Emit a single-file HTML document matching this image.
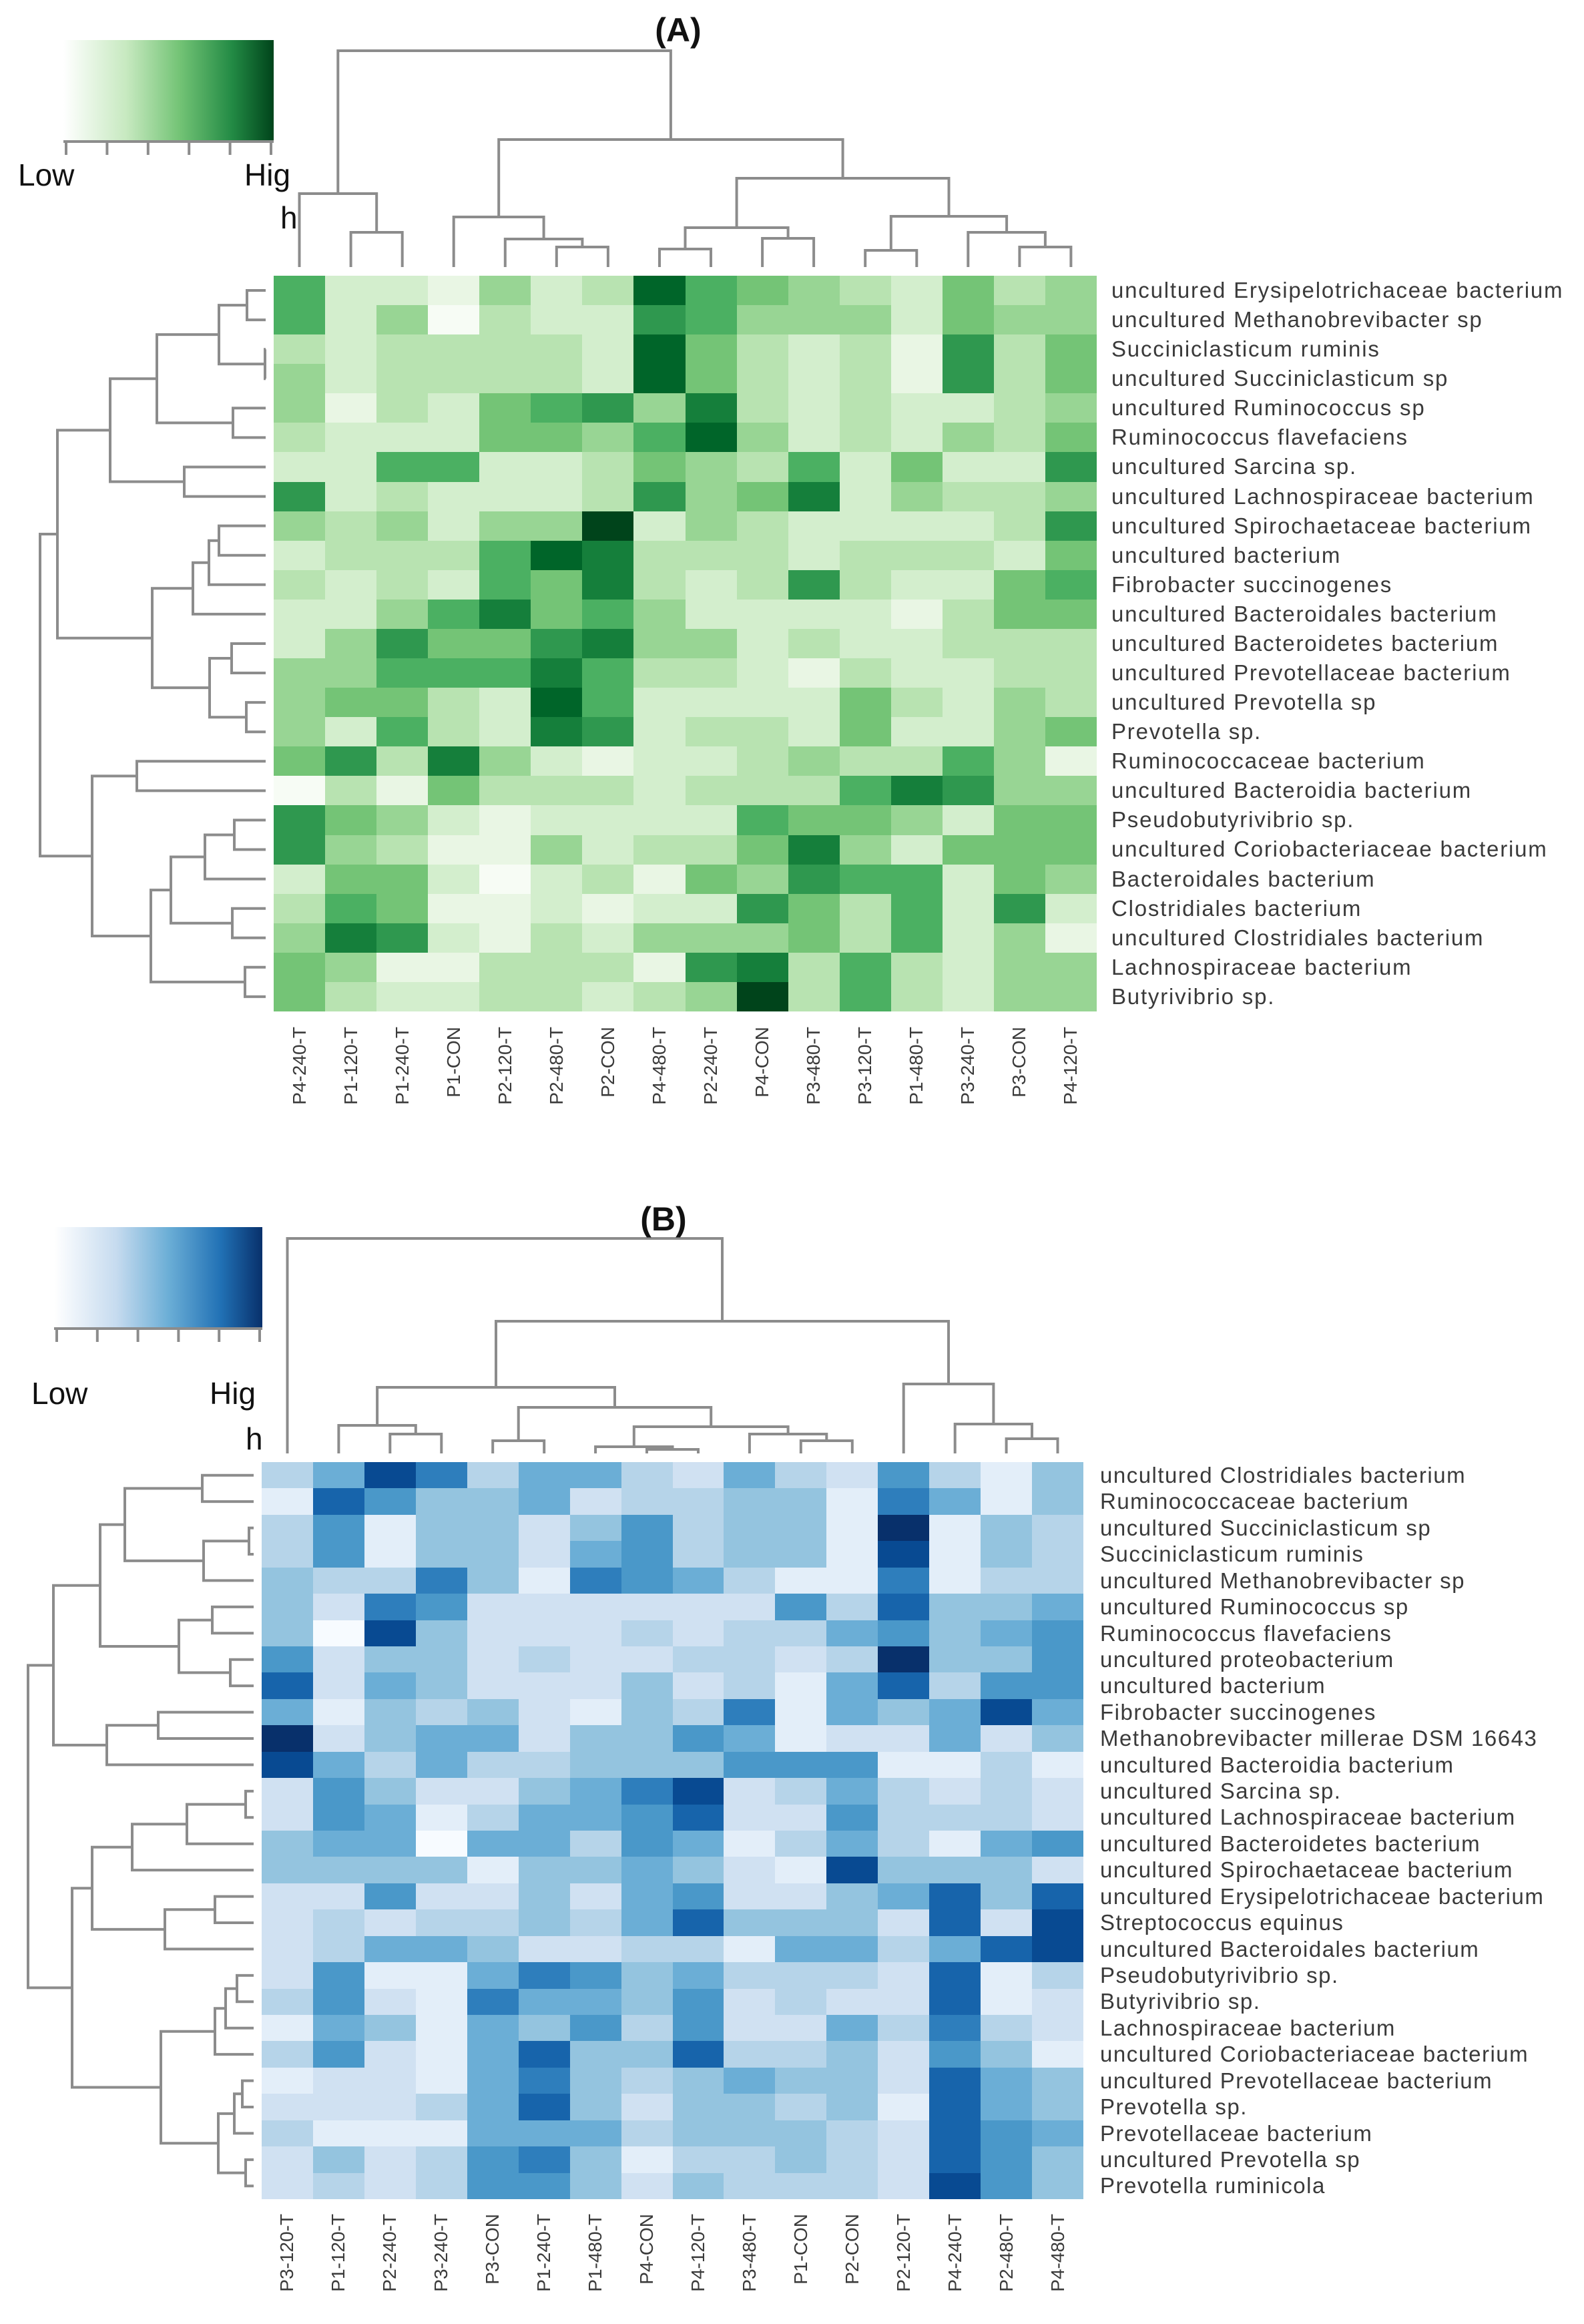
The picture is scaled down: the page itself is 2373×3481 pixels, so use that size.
<!DOCTYPE html>
<html xmlns="http://www.w3.org/1999/xhtml"><head><meta charset="utf-8"/><title>Heatmaps A and B</title>
<style>
html,body{margin:0;padding:0;background:#fff;width:2373px;height:3481px;overflow:hidden;}
body{position:relative;font-family:"Liberation Sans",sans-serif;}
svg{position:absolute;left:0;top:0;}
.grid{position:absolute;display:grid;grid-template-columns:repeat(16,1fr);}
.grid i{display:block;}
#gridA{left:410px;top:413px;width:1233px;height:1102px;grid-template-rows:repeat(25,1fr);}
#gridB{left:392px;top:2190px;width:1231px;height:1104px;grid-template-rows:repeat(28,1fr);}
.g0{background:#f7fcf5}.g1{background:#e9f6e4}.g2{background:#d3eecd}.g3{background:#b8e3b1}.g4{background:#98d594}.g5{background:#74c476}.g6{background:#4bb062}.g7{background:#2f984f}.g8{background:#157f3b}.g9{background:#006529}.g10{background:#00441b}
.b0{background:#f7fbff}.b1{background:#e3eef9}.b2{background:#d0e1f2}.b3{background:#b6d4e9}.b4{background:#94c4df}.b5{background:#6baed6}.b6{background:#4a98c9}.b7{background:#2e7ebc}.b8{background:#1764ab}.b9{background:#084a92}.b10{background:#08306b}
.rows{position:absolute;color:#3a3a3a;white-space:nowrap;}
.rows div{overflow:visible;}
#rowsA{left:1665px;top:413px;}
#rowsA div{height:44.08px;line-height:44.08px;font-size:33px;letter-spacing:1.8px;}
#rowsB{left:1648px;top:2190px;}
#rowsB div{height:39.43px;line-height:39.43px;font-size:33px;letter-spacing:1.5px;}
.cols{position:absolute;display:flex;color:#3a3a3a;font-size:28px;}
.cols div{flex:1;display:flex;justify-content:center;align-items:flex-start;}
.cols span{writing-mode:vertical-rl;transform:rotate(180deg);white-space:nowrap;}
#colsA{left:410px;top:1538px;width:1233px;}
#colsB{left:392px;top:3316px;width:1231px;}
</style></head>
<body>
<svg xmlns="http://www.w3.org/2000/svg" width="2373" height="3481" viewBox="0 0 2373 3481">
<defs>
<linearGradient id="gG" x1="0" x2="1" y1="0" y2="0"><stop offset="0" stop-color="#ffffff"/><stop offset="0.3" stop-color="#c7e9c0"/><stop offset="0.55" stop-color="#74c476"/><stop offset="0.8" stop-color="#238b45"/><stop offset="1" stop-color="#00441b"/></linearGradient>
<linearGradient id="gB" x1="0" x2="1" y1="0" y2="0"><stop offset="0" stop-color="#ffffff"/><stop offset="0.3" stop-color="#c6dbef"/><stop offset="0.55" stop-color="#6baed6"/><stop offset="0.8" stop-color="#2171b5"/><stop offset="1" stop-color="#08306b"/></linearGradient>
</defs>
<g fill="none" stroke="#8c8c8c" stroke-width="4">
<path d="M525.6 400 V348 H602.7 V400"/>
<path d="M448.5 400 V290 H564.2 V348"/>
<path d="M833.8 400 V370 H910.9 V400"/>
<path d="M756.8 400 V358 H872.4 V370"/>
<path d="M679.7 400 V325 H814.6 V358"/>
<path d="M988 400 V373 H1065 V400"/>
<path d="M1142.1 400 V357 H1219.1 V400"/>
<path d="M1026.5 373 V341 H1180.6 V357"/>
<path d="M1296.2 400 V375 H1373.3 V400"/>
<path d="M1527.4 400 V370 H1604.4 V400"/>
<path d="M1450.3 400 V348 H1565.9 V370"/>
<path d="M1334.8 375 V324 H1508.1 V348"/>
<path d="M1103.6 341 V267 H1421.5 V324"/>
<path d="M747.2 325 V209 H1262.6 V267"/>
<path d="M506.3 290 V76 H1004.9 V209"/>
</g>
<g fill="none" stroke="#8c8c8c" stroke-width="4">
<path d="M398 435 H370 V479.1 H398"/>
<path d="M398 523.2 H397 V567.2 H398"/>
<path d="M370 457.1 H328 V545.2 H397"/>
<path d="M398 611.3 H349 V655.4 H398"/>
<path d="M328 501.1 H235 V633.4 H349"/>
<path d="M398 699.5 H276 V743.6 H398"/>
<path d="M235 567.2 H165 V721.5 H276"/>
<path d="M398 787.6 H328 V831.7 H398"/>
<path d="M328 809.7 H313 V875.8 H398"/>
<path d="M313 842.7 H289 V919.9 H398"/>
<path d="M398 964 H347 V1008 H398"/>
<path d="M398 1052.1 H369 V1096.2 H398"/>
<path d="M347 986 H314 V1074.2 H369"/>
<path d="M289 881.3 H228 V1030.1 H314"/>
<path d="M165 644.4 H86 V955.7 H228"/>
<path d="M398 1140.3 H205 V1184.4 H398"/>
<path d="M398 1228.4 H351 V1272.5 H398"/>
<path d="M351 1250.5 H307 V1316.6 H398"/>
<path d="M398 1360.7 H348 V1404.8 H398"/>
<path d="M307 1283.5 H256 V1382.7 H348"/>
<path d="M398 1448.8 H367 V1492.9 H398"/>
<path d="M256 1333.1 H226 V1470.9 H367"/>
<path d="M205 1162.4 H138 V1402 H226"/>
<path d="M86 800 H60 V1282.2 H138"/>
</g>
<g fill="none" stroke="#8c8c8c" stroke-width="4">
<path d="M584.3 2177 V2148 H661.3 V2177"/>
<path d="M507.4 2177 V2135 H622.8 V2148"/>
<path d="M738.2 2177 V2158 H815.2 V2177"/>
<path d="M969 2177 V2171 H1046 V2177"/>
<path d="M892.1 2177 V2167 H1007.5 V2171"/>
<path d="M1199.8 2177 V2158 H1276.8 V2177"/>
<path d="M1122.9 2177 V2148 H1238.3 V2158"/>
<path d="M949.8 2167 V2137 H1180.6 V2148"/>
<path d="M776.7 2158 V2108 H1065.2 V2137"/>
<path d="M565.1 2135 V2078 H921 V2108"/>
<path d="M1507.6 2177 V2155 H1584.5 V2177"/>
<path d="M1430.7 2177 V2133 H1546 V2155"/>
<path d="M1353.7 2177 V2073 H1488.4 V2133"/>
<path d="M743 2078 V1979 H1421 V2073"/>
<path d="M430.5 2177 V1855 H1082 V1979"/>
</g>
<g fill="none" stroke="#8c8c8c" stroke-width="4">
<path d="M380 2209.7 H303 V2249.1 H380"/>
<path d="M380 2288.6 H373 V2328 H380"/>
<path d="M373 2308.3 H305 V2367.4 H380"/>
<path d="M303 2229.4 H187 V2337.9 H305"/>
<path d="M380 2406.9 H318 V2446.3 H380"/>
<path d="M380 2485.7 H345 V2525.1 H380"/>
<path d="M318 2426.6 H268 V2505.4 H345"/>
<path d="M187 2283.6 H150 V2466 H268"/>
<path d="M380 2564.6 H237 V2604 H380"/>
<path d="M237 2584.3 H160 V2643.4 H380"/>
<path d="M150 2374.8 H80 V2613.9 H160"/>
<path d="M380 2682.9 H368 V2722.3 H380"/>
<path d="M368 2702.6 H280 V2761.7 H380"/>
<path d="M280 2732.2 H198 V2801.1 H380"/>
<path d="M380 2840.6 H322 V2880 H380"/>
<path d="M322 2860.3 H247 V2919.4 H380"/>
<path d="M198 2766.7 H138 V2889.9 H247"/>
<path d="M380 2958.9 H355 V2998.3 H380"/>
<path d="M355 2978.6 H338 V3037.7 H380"/>
<path d="M338 3008.2 H322 V3077.1 H380"/>
<path d="M380 3116.6 H363 V3156 H380"/>
<path d="M363 3136.3 H351 V3195.4 H380"/>
<path d="M380 3234.9 H368 V3274.3 H380"/>
<path d="M351 3165.9 H327 V3254.6 H368"/>
<path d="M322 3042.7 H241 V3210.3 H327"/>
<path d="M138 2828.3 H108 V3126.5 H241"/>
<path d="M80 2494.4 H42 V2977.4 H108"/>
</g>
<g>
<rect x="95" y="60" width="315" height="150" fill="url(#gG)"/>
<path d="M95 212 H410 M99 212 V232 M160.4 212 V232 M221.8 212 V232 M283.2 212 V232 M344.6 212 V232 M406 212 V232" stroke="#8c8c8c" stroke-width="4" fill="none"/>
<text x="27" y="278" font-size="46" fill="#111" font-family="Liberation Sans, sans-serif">Low</text>
<text x="366" y="278" font-size="46" fill="#111" font-family="Liberation Sans, sans-serif">Hig</text>
<text x="420" y="342" font-size="46" fill="#111" font-family="Liberation Sans, sans-serif">h</text>
</g>
<text x="1016" y="62" font-size="50" font-weight="bold" text-anchor="middle" fill="#111" font-family="Liberation Sans, sans-serif">(A)</text>
<g>
<rect x="81" y="1838" width="312" height="150" fill="url(#gB)"/>
<path d="M81 1990 H393 M85 1990 V2010 M145.8 1990 V2010 M206.6 1990 V2010 M267.4 1990 V2010 M328.2 1990 V2010 M389 1990 V2010" stroke="#8c8c8c" stroke-width="4" fill="none"/>
<text x="47" y="2103" font-size="46" fill="#111" font-family="Liberation Sans, sans-serif">Low</text>
<text x="314" y="2103" font-size="46" fill="#111" font-family="Liberation Sans, sans-serif">Hig</text>
<text x="368" y="2171" font-size="46" fill="#111" font-family="Liberation Sans, sans-serif">h</text>
</g>
<text x="994" y="1843" font-size="50" font-weight="bold" text-anchor="middle" fill="#111" font-family="Liberation Sans, sans-serif">(B)</text>
</svg>

<div class="grid" id="gridA">
<i class="g6"></i><i class="g2"></i><i class="g2"></i><i class="g1"></i><i class="g4"></i><i class="g2"></i><i class="g3"></i><i class="g9"></i><i class="g6"></i><i class="g5"></i><i class="g4"></i><i class="g3"></i><i class="g2"></i><i class="g5"></i><i class="g3"></i><i class="g4"></i>
<i class="g6"></i><i class="g2"></i><i class="g4"></i><i class="g0"></i><i class="g3"></i><i class="g2"></i><i class="g2"></i><i class="g7"></i><i class="g6"></i><i class="g4"></i><i class="g4"></i><i class="g4"></i><i class="g2"></i><i class="g5"></i><i class="g4"></i><i class="g4"></i>
<i class="g3"></i><i class="g2"></i><i class="g3"></i><i class="g3"></i><i class="g3"></i><i class="g3"></i><i class="g2"></i><i class="g9"></i><i class="g5"></i><i class="g3"></i><i class="g2"></i><i class="g3"></i><i class="g1"></i><i class="g7"></i><i class="g3"></i><i class="g5"></i>
<i class="g4"></i><i class="g2"></i><i class="g3"></i><i class="g3"></i><i class="g3"></i><i class="g3"></i><i class="g2"></i><i class="g9"></i><i class="g5"></i><i class="g3"></i><i class="g2"></i><i class="g3"></i><i class="g1"></i><i class="g7"></i><i class="g3"></i><i class="g5"></i>
<i class="g4"></i><i class="g1"></i><i class="g3"></i><i class="g2"></i><i class="g5"></i><i class="g6"></i><i class="g7"></i><i class="g4"></i><i class="g8"></i><i class="g3"></i><i class="g2"></i><i class="g3"></i><i class="g2"></i><i class="g2"></i><i class="g3"></i><i class="g4"></i>
<i class="g3"></i><i class="g2"></i><i class="g2"></i><i class="g2"></i><i class="g5"></i><i class="g5"></i><i class="g4"></i><i class="g6"></i><i class="g9"></i><i class="g4"></i><i class="g2"></i><i class="g3"></i><i class="g2"></i><i class="g4"></i><i class="g3"></i><i class="g5"></i>
<i class="g2"></i><i class="g2"></i><i class="g6"></i><i class="g6"></i><i class="g2"></i><i class="g2"></i><i class="g3"></i><i class="g5"></i><i class="g4"></i><i class="g3"></i><i class="g6"></i><i class="g2"></i><i class="g5"></i><i class="g2"></i><i class="g2"></i><i class="g7"></i>
<i class="g7"></i><i class="g2"></i><i class="g3"></i><i class="g2"></i><i class="g2"></i><i class="g2"></i><i class="g3"></i><i class="g7"></i><i class="g4"></i><i class="g5"></i><i class="g8"></i><i class="g2"></i><i class="g4"></i><i class="g3"></i><i class="g3"></i><i class="g4"></i>
<i class="g4"></i><i class="g3"></i><i class="g4"></i><i class="g2"></i><i class="g4"></i><i class="g4"></i><i class="g10"></i><i class="g2"></i><i class="g4"></i><i class="g3"></i><i class="g2"></i><i class="g2"></i><i class="g2"></i><i class="g2"></i><i class="g3"></i><i class="g7"></i>
<i class="g2"></i><i class="g3"></i><i class="g3"></i><i class="g3"></i><i class="g6"></i><i class="g9"></i><i class="g8"></i><i class="g3"></i><i class="g3"></i><i class="g3"></i><i class="g2"></i><i class="g3"></i><i class="g3"></i><i class="g3"></i><i class="g2"></i><i class="g5"></i>
<i class="g3"></i><i class="g2"></i><i class="g3"></i><i class="g2"></i><i class="g6"></i><i class="g5"></i><i class="g8"></i><i class="g3"></i><i class="g2"></i><i class="g3"></i><i class="g7"></i><i class="g3"></i><i class="g2"></i><i class="g2"></i><i class="g5"></i><i class="g6"></i>
<i class="g2"></i><i class="g2"></i><i class="g4"></i><i class="g6"></i><i class="g8"></i><i class="g5"></i><i class="g6"></i><i class="g4"></i><i class="g2"></i><i class="g2"></i><i class="g2"></i><i class="g2"></i><i class="g1"></i><i class="g3"></i><i class="g5"></i><i class="g5"></i>
<i class="g2"></i><i class="g4"></i><i class="g7"></i><i class="g5"></i><i class="g5"></i><i class="g7"></i><i class="g8"></i><i class="g4"></i><i class="g4"></i><i class="g2"></i><i class="g3"></i><i class="g2"></i><i class="g2"></i><i class="g3"></i><i class="g3"></i><i class="g3"></i>
<i class="g4"></i><i class="g4"></i><i class="g6"></i><i class="g6"></i><i class="g6"></i><i class="g8"></i><i class="g6"></i><i class="g3"></i><i class="g3"></i><i class="g2"></i><i class="g1"></i><i class="g3"></i><i class="g2"></i><i class="g2"></i><i class="g3"></i><i class="g3"></i>
<i class="g4"></i><i class="g5"></i><i class="g5"></i><i class="g3"></i><i class="g2"></i><i class="g9"></i><i class="g6"></i><i class="g2"></i><i class="g2"></i><i class="g2"></i><i class="g2"></i><i class="g5"></i><i class="g3"></i><i class="g2"></i><i class="g4"></i><i class="g3"></i>
<i class="g4"></i><i class="g2"></i><i class="g6"></i><i class="g3"></i><i class="g2"></i><i class="g8"></i><i class="g7"></i><i class="g2"></i><i class="g3"></i><i class="g3"></i><i class="g2"></i><i class="g5"></i><i class="g2"></i><i class="g2"></i><i class="g4"></i><i class="g5"></i>
<i class="g5"></i><i class="g7"></i><i class="g3"></i><i class="g8"></i><i class="g4"></i><i class="g2"></i><i class="g1"></i><i class="g2"></i><i class="g2"></i><i class="g3"></i><i class="g4"></i><i class="g3"></i><i class="g3"></i><i class="g6"></i><i class="g4"></i><i class="g1"></i>
<i class="g0"></i><i class="g3"></i><i class="g1"></i><i class="g5"></i><i class="g3"></i><i class="g3"></i><i class="g3"></i><i class="g2"></i><i class="g3"></i><i class="g3"></i><i class="g3"></i><i class="g6"></i><i class="g8"></i><i class="g7"></i><i class="g4"></i><i class="g4"></i>
<i class="g7"></i><i class="g5"></i><i class="g4"></i><i class="g2"></i><i class="g1"></i><i class="g2"></i><i class="g2"></i><i class="g2"></i><i class="g2"></i><i class="g6"></i><i class="g5"></i><i class="g5"></i><i class="g4"></i><i class="g2"></i><i class="g5"></i><i class="g5"></i>
<i class="g7"></i><i class="g4"></i><i class="g3"></i><i class="g1"></i><i class="g1"></i><i class="g4"></i><i class="g2"></i><i class="g3"></i><i class="g3"></i><i class="g5"></i><i class="g8"></i><i class="g4"></i><i class="g2"></i><i class="g5"></i><i class="g5"></i><i class="g5"></i>
<i class="g2"></i><i class="g5"></i><i class="g5"></i><i class="g2"></i><i class="g0"></i><i class="g2"></i><i class="g3"></i><i class="g1"></i><i class="g5"></i><i class="g4"></i><i class="g7"></i><i class="g6"></i><i class="g6"></i><i class="g2"></i><i class="g5"></i><i class="g4"></i>
<i class="g3"></i><i class="g6"></i><i class="g5"></i><i class="g1"></i><i class="g1"></i><i class="g2"></i><i class="g1"></i><i class="g2"></i><i class="g2"></i><i class="g7"></i><i class="g5"></i><i class="g3"></i><i class="g6"></i><i class="g2"></i><i class="g7"></i><i class="g2"></i>
<i class="g4"></i><i class="g8"></i><i class="g7"></i><i class="g2"></i><i class="g1"></i><i class="g3"></i><i class="g2"></i><i class="g4"></i><i class="g4"></i><i class="g4"></i><i class="g5"></i><i class="g3"></i><i class="g6"></i><i class="g2"></i><i class="g4"></i><i class="g1"></i>
<i class="g5"></i><i class="g4"></i><i class="g1"></i><i class="g1"></i><i class="g3"></i><i class="g3"></i><i class="g3"></i><i class="g1"></i><i class="g7"></i><i class="g8"></i><i class="g3"></i><i class="g6"></i><i class="g3"></i><i class="g2"></i><i class="g4"></i><i class="g4"></i>
<i class="g5"></i><i class="g3"></i><i class="g2"></i><i class="g2"></i><i class="g3"></i><i class="g3"></i><i class="g2"></i><i class="g3"></i><i class="g4"></i><i class="g10"></i><i class="g3"></i><i class="g6"></i><i class="g3"></i><i class="g2"></i><i class="g4"></i><i class="g4"></i>
</div>

<div class="grid" id="gridB">
<i class="b3"></i><i class="b5"></i><i class="b9"></i><i class="b7"></i><i class="b3"></i><i class="b5"></i><i class="b5"></i><i class="b3"></i><i class="b2"></i><i class="b5"></i><i class="b3"></i><i class="b2"></i><i class="b6"></i><i class="b3"></i><i class="b1"></i><i class="b4"></i>
<i class="b1"></i><i class="b8"></i><i class="b6"></i><i class="b4"></i><i class="b4"></i><i class="b5"></i><i class="b2"></i><i class="b3"></i><i class="b3"></i><i class="b4"></i><i class="b4"></i><i class="b1"></i><i class="b7"></i><i class="b5"></i><i class="b1"></i><i class="b4"></i>
<i class="b3"></i><i class="b6"></i><i class="b1"></i><i class="b4"></i><i class="b4"></i><i class="b2"></i><i class="b4"></i><i class="b6"></i><i class="b3"></i><i class="b4"></i><i class="b4"></i><i class="b1"></i><i class="b10"></i><i class="b1"></i><i class="b4"></i><i class="b3"></i>
<i class="b3"></i><i class="b6"></i><i class="b1"></i><i class="b4"></i><i class="b4"></i><i class="b2"></i><i class="b5"></i><i class="b6"></i><i class="b3"></i><i class="b4"></i><i class="b4"></i><i class="b1"></i><i class="b9"></i><i class="b1"></i><i class="b4"></i><i class="b3"></i>
<i class="b4"></i><i class="b3"></i><i class="b3"></i><i class="b7"></i><i class="b4"></i><i class="b1"></i><i class="b7"></i><i class="b6"></i><i class="b5"></i><i class="b3"></i><i class="b1"></i><i class="b1"></i><i class="b7"></i><i class="b1"></i><i class="b3"></i><i class="b3"></i>
<i class="b4"></i><i class="b2"></i><i class="b7"></i><i class="b6"></i><i class="b2"></i><i class="b2"></i><i class="b2"></i><i class="b2"></i><i class="b2"></i><i class="b2"></i><i class="b6"></i><i class="b3"></i><i class="b8"></i><i class="b4"></i><i class="b4"></i><i class="b5"></i>
<i class="b4"></i><i class="b0"></i><i class="b9"></i><i class="b4"></i><i class="b2"></i><i class="b2"></i><i class="b2"></i><i class="b3"></i><i class="b2"></i><i class="b3"></i><i class="b3"></i><i class="b5"></i><i class="b6"></i><i class="b4"></i><i class="b5"></i><i class="b6"></i>
<i class="b6"></i><i class="b2"></i><i class="b4"></i><i class="b4"></i><i class="b2"></i><i class="b3"></i><i class="b2"></i><i class="b2"></i><i class="b3"></i><i class="b3"></i><i class="b2"></i><i class="b3"></i><i class="b10"></i><i class="b4"></i><i class="b4"></i><i class="b6"></i>
<i class="b8"></i><i class="b2"></i><i class="b5"></i><i class="b4"></i><i class="b2"></i><i class="b2"></i><i class="b2"></i><i class="b4"></i><i class="b2"></i><i class="b3"></i><i class="b1"></i><i class="b5"></i><i class="b8"></i><i class="b3"></i><i class="b6"></i><i class="b6"></i>
<i class="b5"></i><i class="b1"></i><i class="b4"></i><i class="b3"></i><i class="b4"></i><i class="b2"></i><i class="b1"></i><i class="b4"></i><i class="b3"></i><i class="b7"></i><i class="b1"></i><i class="b5"></i><i class="b4"></i><i class="b5"></i><i class="b9"></i><i class="b5"></i>
<i class="b10"></i><i class="b2"></i><i class="b4"></i><i class="b5"></i><i class="b5"></i><i class="b2"></i><i class="b4"></i><i class="b4"></i><i class="b6"></i><i class="b5"></i><i class="b1"></i><i class="b2"></i><i class="b2"></i><i class="b5"></i><i class="b2"></i><i class="b4"></i>
<i class="b9"></i><i class="b5"></i><i class="b3"></i><i class="b5"></i><i class="b3"></i><i class="b3"></i><i class="b4"></i><i class="b4"></i><i class="b4"></i><i class="b6"></i><i class="b6"></i><i class="b6"></i><i class="b1"></i><i class="b1"></i><i class="b3"></i><i class="b1"></i>
<i class="b2"></i><i class="b6"></i><i class="b4"></i><i class="b2"></i><i class="b2"></i><i class="b4"></i><i class="b5"></i><i class="b7"></i><i class="b9"></i><i class="b2"></i><i class="b3"></i><i class="b5"></i><i class="b3"></i><i class="b2"></i><i class="b3"></i><i class="b2"></i>
<i class="b2"></i><i class="b6"></i><i class="b5"></i><i class="b1"></i><i class="b3"></i><i class="b5"></i><i class="b5"></i><i class="b6"></i><i class="b8"></i><i class="b2"></i><i class="b2"></i><i class="b6"></i><i class="b3"></i><i class="b3"></i><i class="b3"></i><i class="b2"></i>
<i class="b4"></i><i class="b5"></i><i class="b5"></i><i class="b0"></i><i class="b5"></i><i class="b5"></i><i class="b3"></i><i class="b6"></i><i class="b5"></i><i class="b1"></i><i class="b3"></i><i class="b5"></i><i class="b3"></i><i class="b1"></i><i class="b5"></i><i class="b6"></i>
<i class="b4"></i><i class="b4"></i><i class="b4"></i><i class="b4"></i><i class="b1"></i><i class="b4"></i><i class="b4"></i><i class="b5"></i><i class="b4"></i><i class="b2"></i><i class="b1"></i><i class="b9"></i><i class="b4"></i><i class="b4"></i><i class="b4"></i><i class="b2"></i>
<i class="b2"></i><i class="b2"></i><i class="b6"></i><i class="b2"></i><i class="b2"></i><i class="b4"></i><i class="b2"></i><i class="b5"></i><i class="b6"></i><i class="b2"></i><i class="b2"></i><i class="b4"></i><i class="b5"></i><i class="b8"></i><i class="b4"></i><i class="b8"></i>
<i class="b2"></i><i class="b3"></i><i class="b2"></i><i class="b3"></i><i class="b3"></i><i class="b4"></i><i class="b3"></i><i class="b5"></i><i class="b8"></i><i class="b4"></i><i class="b4"></i><i class="b4"></i><i class="b2"></i><i class="b8"></i><i class="b2"></i><i class="b9"></i>
<i class="b2"></i><i class="b3"></i><i class="b5"></i><i class="b5"></i><i class="b4"></i><i class="b2"></i><i class="b2"></i><i class="b3"></i><i class="b3"></i><i class="b1"></i><i class="b5"></i><i class="b5"></i><i class="b3"></i><i class="b5"></i><i class="b8"></i><i class="b9"></i>
<i class="b2"></i><i class="b6"></i><i class="b1"></i><i class="b1"></i><i class="b5"></i><i class="b7"></i><i class="b6"></i><i class="b4"></i><i class="b5"></i><i class="b3"></i><i class="b3"></i><i class="b3"></i><i class="b2"></i><i class="b8"></i><i class="b1"></i><i class="b3"></i>
<i class="b3"></i><i class="b6"></i><i class="b2"></i><i class="b1"></i><i class="b7"></i><i class="b5"></i><i class="b5"></i><i class="b4"></i><i class="b6"></i><i class="b2"></i><i class="b3"></i><i class="b2"></i><i class="b2"></i><i class="b8"></i><i class="b1"></i><i class="b2"></i>
<i class="b1"></i><i class="b5"></i><i class="b4"></i><i class="b1"></i><i class="b5"></i><i class="b4"></i><i class="b6"></i><i class="b3"></i><i class="b6"></i><i class="b2"></i><i class="b2"></i><i class="b5"></i><i class="b3"></i><i class="b7"></i><i class="b3"></i><i class="b2"></i>
<i class="b3"></i><i class="b6"></i><i class="b2"></i><i class="b1"></i><i class="b5"></i><i class="b8"></i><i class="b4"></i><i class="b4"></i><i class="b8"></i><i class="b3"></i><i class="b3"></i><i class="b4"></i><i class="b2"></i><i class="b6"></i><i class="b4"></i><i class="b1"></i>
<i class="b1"></i><i class="b2"></i><i class="b2"></i><i class="b1"></i><i class="b5"></i><i class="b7"></i><i class="b4"></i><i class="b3"></i><i class="b4"></i><i class="b5"></i><i class="b4"></i><i class="b4"></i><i class="b2"></i><i class="b8"></i><i class="b5"></i><i class="b4"></i>
<i class="b2"></i><i class="b2"></i><i class="b2"></i><i class="b3"></i><i class="b5"></i><i class="b8"></i><i class="b4"></i><i class="b2"></i><i class="b4"></i><i class="b4"></i><i class="b3"></i><i class="b4"></i><i class="b1"></i><i class="b8"></i><i class="b5"></i><i class="b4"></i>
<i class="b3"></i><i class="b1"></i><i class="b1"></i><i class="b1"></i><i class="b5"></i><i class="b5"></i><i class="b5"></i><i class="b3"></i><i class="b4"></i><i class="b4"></i><i class="b4"></i><i class="b3"></i><i class="b2"></i><i class="b8"></i><i class="b6"></i><i class="b5"></i>
<i class="b2"></i><i class="b4"></i><i class="b2"></i><i class="b3"></i><i class="b6"></i><i class="b7"></i><i class="b4"></i><i class="b1"></i><i class="b3"></i><i class="b3"></i><i class="b4"></i><i class="b3"></i><i class="b2"></i><i class="b8"></i><i class="b6"></i><i class="b4"></i>
<i class="b2"></i><i class="b3"></i><i class="b2"></i><i class="b3"></i><i class="b6"></i><i class="b6"></i><i class="b4"></i><i class="b2"></i><i class="b4"></i><i class="b3"></i><i class="b3"></i><i class="b3"></i><i class="b2"></i><i class="b9"></i><i class="b6"></i><i class="b4"></i>
</div>

<div class="rows" id="rowsA">
<div>uncultured Erysipelotrichaceae bacterium</div>
<div>uncultured Methanobrevibacter sp</div>
<div>Succiniclasticum ruminis</div>
<div>uncultured Succiniclasticum sp</div>
<div>uncultured Ruminococcus sp</div>
<div>Ruminococcus flavefaciens</div>
<div>uncultured Sarcina sp.</div>
<div>uncultured Lachnospiraceae bacterium</div>
<div>uncultured Spirochaetaceae bacterium</div>
<div>uncultured bacterium</div>
<div>Fibrobacter succinogenes</div>
<div>uncultured Bacteroidales bacterium</div>
<div>uncultured Bacteroidetes bacterium</div>
<div>uncultured Prevotellaceae bacterium</div>
<div>uncultured Prevotella sp</div>
<div>Prevotella sp.</div>
<div>Ruminococcaceae bacterium</div>
<div>uncultured Bacteroidia bacterium</div>
<div>Pseudobutyrivibrio sp.</div>
<div>uncultured Coriobacteriaceae bacterium</div>
<div>Bacteroidales bacterium</div>
<div>Clostridiales bacterium</div>
<div>uncultured Clostridiales bacterium</div>
<div>Lachnospiraceae bacterium</div>
<div>Butyrivibrio sp.</div>
</div>

<div class="rows" id="rowsB">
<div>uncultured Clostridiales bacterium</div>
<div>Ruminococcaceae bacterium</div>
<div>uncultured Succiniclasticum sp</div>
<div>Succiniclasticum ruminis</div>
<div>uncultured Methanobrevibacter sp</div>
<div>uncultured Ruminococcus sp</div>
<div>Ruminococcus flavefaciens</div>
<div>uncultured proteobacterium</div>
<div>uncultured bacterium</div>
<div>Fibrobacter succinogenes</div>
<div>Methanobrevibacter millerae DSM 16643</div>
<div>uncultured Bacteroidia bacterium</div>
<div>uncultured Sarcina sp.</div>
<div>uncultured Lachnospiraceae bacterium</div>
<div>uncultured Bacteroidetes bacterium</div>
<div>uncultured Spirochaetaceae bacterium</div>
<div>uncultured Erysipelotrichaceae bacterium</div>
<div>Streptococcus equinus</div>
<div>uncultured Bacteroidales bacterium</div>
<div>Pseudobutyrivibrio sp.</div>
<div>Butyrivibrio sp.</div>
<div>Lachnospiraceae bacterium</div>
<div>uncultured Coriobacteriaceae bacterium</div>
<div>uncultured Prevotellaceae bacterium</div>
<div>Prevotella sp.</div>
<div>Prevotellaceae bacterium</div>
<div>uncultured Prevotella sp</div>
<div>Prevotella ruminicola</div>
</div>

<div class="cols" id="colsA">
<div><span>P4-240-T</span></div><div><span>P1-120-T</span></div><div><span>P1-240-T</span></div><div><span>P1-CON</span></div><div><span>P2-120-T</span></div><div><span>P2-480-T</span></div><div><span>P2-CON</span></div><div><span>P4-480-T</span></div><div><span>P2-240-T</span></div><div><span>P4-CON</span></div><div><span>P3-480-T</span></div><div><span>P3-120-T</span></div><div><span>P1-480-T</span></div><div><span>P3-240-T</span></div><div><span>P3-CON</span></div><div><span>P4-120-T</span></div>
</div>

<div class="cols" id="colsB">
<div><span>P3-120-T</span></div><div><span>P1-120-T</span></div><div><span>P2-240-T</span></div><div><span>P3-240-T</span></div><div><span>P3-CON</span></div><div><span>P1-240-T</span></div><div><span>P1-480-T</span></div><div><span>P4-CON</span></div><div><span>P4-120-T</span></div><div><span>P3-480-T</span></div><div><span>P1-CON</span></div><div><span>P2-CON</span></div><div><span>P2-120-T</span></div><div><span>P4-240-T</span></div><div><span>P2-480-T</span></div><div><span>P4-480-T</span></div>
</div>
</body></html>
